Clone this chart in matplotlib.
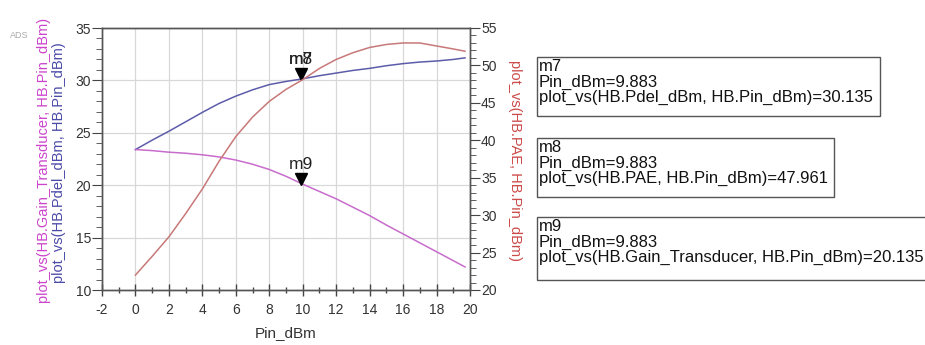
import matplotlib
matplotlib.use("Agg")
import matplotlib.pyplot as plt
from matplotlib.ticker import MultipleLocator

plt.rcParams['font.family'] = ['Liberation Sans', 'DejaVu Sans']
plt.rcParams['axes.unicode_minus'] = False

# Harmonic-balance sweep results
pin_dbm = [0, 1, 2, 3, 4, 5, 6, 7, 8, 9, 10, 11, 12, 13, 14, 15, 16, 17, 18, 19, 19.7]
pdel_dbm = [23.4, 24.3, 25.15, 26.05, 26.95, 27.8, 28.5, 29.1, 29.6, 29.9, 30.15,
            30.45, 30.7, 30.95, 31.15, 31.4, 31.6, 31.75, 31.85, 32.0, 32.15]
gain_db = [23.4, 23.3, 23.15, 23.05, 22.9, 22.7, 22.4, 22.0, 21.5, 20.85, 20.1,
           19.4, 18.7, 17.9, 17.1, 16.2, 15.35, 14.5, 13.65, 12.8, 12.2]
pae_pct = [22.0, 24.5, 27.1, 30.2, 33.5, 37.2, 40.5, 43.1, 45.2, 46.8, 48.1,
           49.6, 50.8, 51.7, 52.4, 52.8, 53.0, 53.0, 52.6, 52.2, 51.9]

marker_pin = 9.883
marker_pdel = 30.135
marker_pae = 47.961
marker_gain = 20.135

c_pdel = '#5c5caa'
c_gain = '#c86ccc'
c_pae = '#c87878'

fig = plt.figure(figsize=(9.25, 3.45), dpi=100)
ax = fig.add_axes([102/925, 1 - 290/345, 368/925, 262/345])
ax2 = ax.twinx()

ax.plot(pin_dbm, pdel_dbm, color=c_pdel, lw=1.1, zorder=3)
ax.plot(pin_dbm, gain_db, color=c_gain, lw=1.1, zorder=3)
ax2.plot(pin_dbm, pae_pct, color=c_pae, lw=1.1, zorder=3)

ax.set_xlim(-2, 20)
ax.set_ylim(10, 35)
ax2.set_ylim(20, 55)

ax.xaxis.set_major_locator(MultipleLocator(2))
ax.xaxis.set_minor_locator(MultipleLocator(1))
ax.yaxis.set_major_locator(MultipleLocator(5))
ax.yaxis.set_minor_locator(MultipleLocator(1))
ax2.yaxis.set_major_locator(MultipleLocator(5))
ax2.yaxis.set_minor_locator(MultipleLocator(1))

ax.grid(True, which='major', color='#d8d8d8', lw=0.9)
ax.set_axisbelow(True)

for a in (ax, ax2):
    for s in a.spines.values():
        s.set_color('#555555')
        s.set_linewidth(1.0)
    a.tick_params(which='both', colors='#444444', labelcolor='#333333', labelsize=10)
ax.tick_params(axis='x', which='major', direction='inout', length=9, width=1, pad=5)
ax.tick_params(axis='x', which='minor', direction='inout', length=5, width=1)
ax.tick_params(axis='y', which='major', direction='out', length=7, pad=1)
ax.tick_params(axis='y', which='minor', direction='out', length=4)
ax2.tick_params(axis='y', which='major', direction='out', length=7, pad=1)
ax2.tick_params(axis='y', which='minor', direction='out', length=4)

ax.set_xlabel('Pin_dBm', fontsize=11, color='#333333', labelpad=6)

# Stacked left axis labels
fig.text(44/925, 1 - 160/345, 'plot_vs(HB.Gain_Transducer, HB.Pin_dBm)', rotation=90,
         color='#cc44cc', fontsize=10.5, ha='center', va='center')
fig.text(59/925, 1 - 163/345, 'plot_vs(HB.Pdel_dBm, HB.Pin_dBm)', rotation=90,
         color='#4a4aa8', fontsize=10.5, ha='center', va='center')
fig.text(515/925, 1 - 160/345, 'plot_vs(HB.PAE, HB.Pin_dBm)', rotation=-90,
         color='#cc4a4a', fontsize=10.5, ha='center', va='center')
fig.text(10/925, 1 - 35/345, 'ADS', color='#aaaaaa', fontsize=6.5, ha='left', va='center')

# Markers
ax.plot([marker_pin], [marker_pdel + 0.45], marker='v', color='black', ms=8, zorder=5)
ax.plot([marker_pin], [marker_gain + 0.45], marker='v', color='black', ms=8, zorder=5)
ax.text(marker_pin, marker_pdel + 1.1, 'm7', ha='center', va='bottom', fontsize=12.5, color='#222222')
ax.text(marker_pin, marker_pdel + 1.1, 'm8', ha='center', va='bottom', fontsize=12.5, color='#222222')
ax.text(marker_pin, marker_gain + 1.1, 'm9', ha='center', va='bottom', fontsize=12.5, color='#222222')

# Marker readout boxes
readouts = [
    ('m7', f'plot_vs(HB.Pdel_dBm, HB.Pin_dBm)={marker_pdel:.3f}', 57, 116, 880),
    ('m8', f'plot_vs(HB.PAE, HB.Pin_dBm)={marker_pae:.3f}', 138, 197, 834),
    ('m9', f'plot_vs(HB.Gain_Transducer, HB.Pin_dBm)={marker_gain:.3f}', 217, 280, 930),
]
for name, line, top, bot, right in readouts:
    left = 537
    rect = plt.Rectangle((left / 925, 1 - bot / 345), (right - left) / 925, (bot - top) / 345,
                         transform=fig.transFigure, fill=False, edgecolor='#555555', lw=1.0)
    fig.add_artist(rect)
    fig.text((left + 2) / 925, 1 - (top + 2) / 345,
             f'{name}\nPin_dBm={marker_pin:.3f}\n{line}',
             ha='left', va='top', fontsize=12, color='#111111', linespacing=1.05)

fig.savefig('out.png', dpi=100)
